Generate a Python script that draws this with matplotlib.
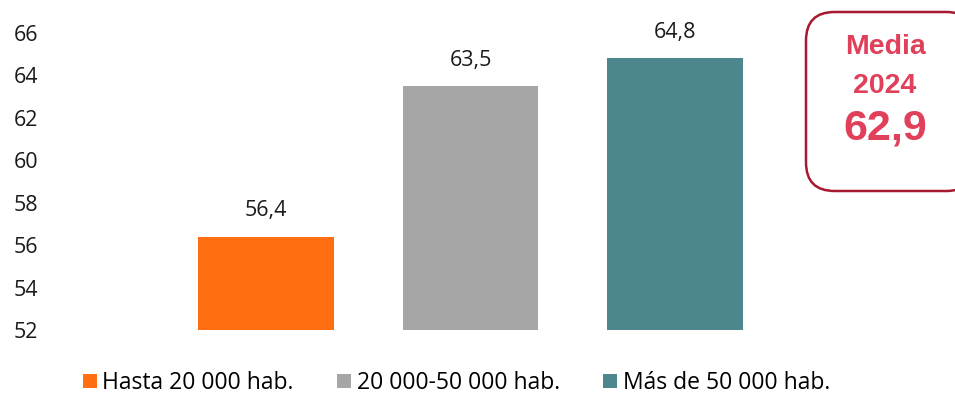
import matplotlib
matplotlib.use("Agg")
import matplotlib.pyplot as plt
from matplotlib.patches import FancyBboxPatch, Patch

categories = ["Hasta 20 000 hab.", "20 000-50 000 hab.", "Más de 50 000 hab."]
values = [56.4, 63.5, 64.8]
value_labels = ["56,4", "63,5", "64,8"]
colors = ["#FF6F11", "#A6A6A6", "#4D878E"]
yticks = [52, 54, 56, 58, 60, 62, 64, 66]
box_lines = ["Media", "2024", "62,9"]

plt.rcParams['font.family'] = ['Open Sans', 'DejaVu Sans']

W, H = 955, 394
fig = plt.figure(figsize=(W / 100, H / 100), dpi=100)
left, right, top, bottom = 50, 800, 33, 330
ax = fig.add_axes([left / W, 1 - bottom / H, (right - left) / W, (bottom - top) / H])

x = list(range(len(categories)))
ax.bar(x, [v - 52 for v in values], bottom=52, width=0.665, color=colors)
ax.set_ylim(52, 66)
ax.set_xlim(-(266 - left) / 204.5, (right - 266) / 204.5)
ax.set_yticks(yticks)
ax.set_yticklabels([str(t) for t in yticks], fontsize=15.5, color="#1a1a1a")
ax.set_xticks([])
for s in ax.spines.values():
    s.set_visible(False)
ax.tick_params(axis='y', length=0, pad=8.5)
for xi, v, lab in zip(x, values, value_labels):
    ax.annotate(lab, (xi, v), xytext=(0, 11), textcoords="offset points",
                ha="center", va="bottom", fontsize=15.5, color="#1a1a1a")

handles = [Patch(facecolor=c, edgecolor='none') for c in colors]
fig.legend(handles, categories, loc="center", bbox_to_anchor=(0.478, 1 - 383 / H),
           ncol=3, frameon=False, fontsize=16.5, handlelength=0.6, handleheight=0.6,
           handletextpad=0.25, columnspacing=1.9)

# Media box
bx0, by0, bx1, by1 = 806, 12, 975, 191
box = FancyBboxPatch((bx0 / W, 1 - by1 / H), (bx1 - bx0) / W, (by1 - by0) / H,
                     boxstyle="round,pad=0,rounding_size=0.03",
                     transform=fig.transFigure, facecolor="white",
                     edgecolor="#A6192E", linewidth=1.8, mutation_aspect=W / H)
fig.patches.append(box)
tc = "#E0405A"
fam = ["Liberation Sans", "DejaVu Sans"]
fig.text(885 / W, 1 - 47 / H, box_lines[0], ha="center", va="center", fontsize=20.5,
         fontweight="bold", color=tc, family=fam)
fig.text(885 / W, 1 - 86 / H, box_lines[1], ha="center", va="center", fontsize=20.5,
         fontweight="bold", color=tc, family=fam)
fig.text(885 / W, 1 - 128 / H, box_lines[2], ha="center", va="center", fontsize=31,
         fontweight="bold", color=tc, family=fam)

fig.savefig("out.png", dpi=100)
